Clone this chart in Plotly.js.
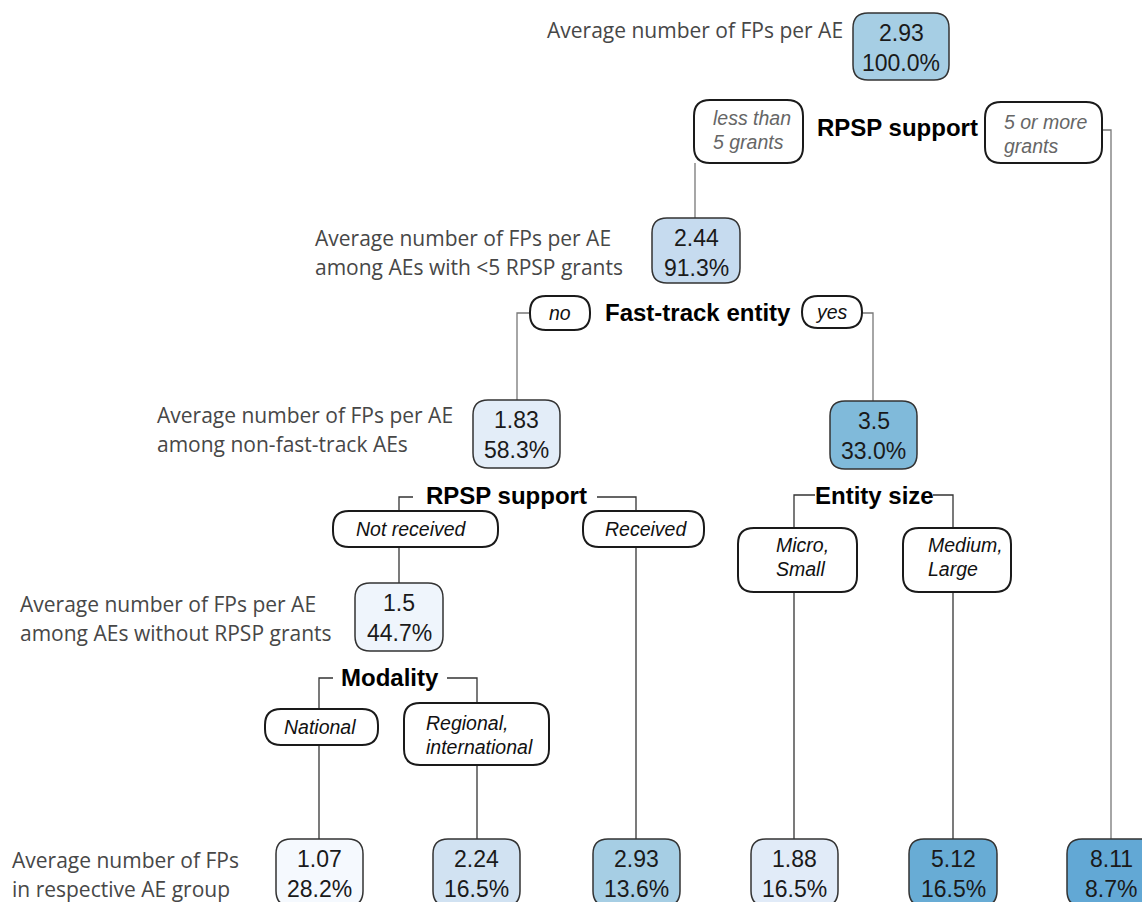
<!DOCTYPE html>
<html>
<head>
<meta charset="utf-8">
<script src="https://cdn.plot.ly/plotly-3.0.1.min.js"></script>
<style>html,body{margin:0;padding:0;background:#fff;}#chart{width:1142px;height:902px;}</style>
</head>
<body>
<div id="chart"></div>
<script>
// ---------- DATA ----------
const nodeValues = [2.93, 2.44, 1.83, 3.5, 1.5, 1.07, 2.24, 2.93, 1.88, 5.12, 8.11];
const nodeShares = [100.0, 91.3, 58.3, 33.0, 44.7, 28.2, 16.5, 13.6, 16.5, 16.5, 8.7];
const nodeLabels = [
  ["Average number of FPs per AE"],
  ["Average number of FPs per AE", "among AEs with <5 RPSP grants"],
  ["Average number of FPs per AE", "among non-fast-track AEs"],
  [],
  ["Average number of FPs per AE", "among AEs without RPSP grants"],
  ["Average number of FPs", "in respective AE group"],
  [], [], [], [], []
];
const splitTitles = ["RPSP support", "Fast-track entity", "RPSP support", "Entity size", "Modality"];
const branchLabels = [
  ["less than", "5 grants"], ["5 or more", "grants"],
  ["no"], ["yes"],
  ["Not received"], ["Received"],
  ["Micro,", "Small"], ["Medium,", "Large"],
  ["National"], ["Regional,", "international"]
];

// ---------- LAYOUT GEOMETRY (positions / sizes) ----------
const nodeBoxes = [
  [853, 13, 949, 80],
  [652, 218, 740, 283],
  [473, 400, 560, 468],
  [830, 401, 917, 469],
  [355, 583, 443, 651],
  [276, 839, 363, 906],
  [433, 839, 520, 906],
  [593, 839, 680, 906],
  [751, 839, 838, 906],
  [909, 839, 997, 906],
  [1067, 839, 1155, 906]
];
// label anchor: [x, anchor, y of first line]
const nodeLabelPos = [
  [845, "right", 30],
  [313, "left", 238],
  [155, "left", 415],
  null,
  [18, "left", 604],
  [10, "left", 860],
  null, null, null, null, null
];
const splitPos = [[897, 127], [698, 312], [506, 495], [874, 495], [390, 677]];
// branch boxes [x0,y0,x1,y1,textX,textAnchor,textY,color]
const branchBoxes = [
  [694, 100, 803, 163, 711, "left", 118, "#666"],
  [985, 102, 1102, 163, 1002, "left", 122, "#666"],
  [530, 296, 590, 330, 560, "center", 313, "#111"],
  [802, 296, 862, 328, 831, "center", 312, "#111"],
  [333, 511, 498, 547, 411, "center", 529, "#111"],
  [583, 511, 704, 547, 646, "center", 529, "#111"],
  [738, 528, 857, 592, 774, "left", 545, "#111"],
  [903, 528, 1011, 592, 926, "left", 545, "#111"],
  [265, 709, 378, 745, 320, "center", 727, "#111"],
  [404, 703, 549, 765, 424, "left", 723, "#111"]
];
const connectors = [
  [[695, 163], [695, 218]],
  [[1102, 130], [1111, 130], [1111, 839]],
  [[530, 313], [517, 313], [517, 400]],
  [[862, 313], [873, 313], [873, 401]],
  [[413, 497], [399, 497], [399, 511]],
  [[399, 547], [399, 583]],
  [[597, 497], [636, 497], [636, 511]],
  [[636, 547], [636, 839]],
  [[815, 495], [794, 495], [794, 528]],
  [[794, 592], [794, 839]],
  [[933, 495], [953, 495], [953, 528]],
  [[953, 592], [953, 839]],
  [[333, 678], [319, 678], [319, 709]],
  [[319, 745], [319, 839]],
  [[447, 678], [477, 678], [477, 703]],
  [[477, 765], [477, 839]]
];

// ---------- STYLES ----------
const colorStops = [
  [1.0, [246, 250, 254]],
  [1.5, [239, 245, 252]],
  [1.85, [226, 236, 248]],
  [2.24, [209, 226, 242]],
  [2.44, [198, 219, 239]],
  [2.93, [166, 206, 228]],
  [3.5, [128, 186, 218]],
  [5.12, [104, 172, 213]],
  [8.11, [98, 168, 213]]
];
function fillFor(v) {
  for (let i = 0; i < colorStops.length - 1; i++) {
    const [a, ca] = colorStops[i], [b, cb] = colorStops[i + 1];
    if (v <= b) {
      const t = Math.max(0, (v - a) / (b - a));
      const c = ca.map((x, k) => Math.round(x + (cb[k] - x) * t));
      return `rgb(${c.join(",")})`;
    }
  }
  const c = colorStops[colorStops.length - 1][1];
  return `rgb(${c.join(",")})`;
}
function rr(x0, y0, x1, y1, r) {
  return `M${x0 + r},${y0} L${x1 - r},${y0} Q${x1},${y0} ${x1},${y0 + r} L${x1},${y1 - r} Q${x1},${y1} ${x1 - r},${y1} L${x0 + r},${y1} Q${x0},${y1} ${x0},${y1 - r} L${x0},${y0 + r} Q${x0},${y0} ${x0 + r},${y0} Z`;
}
const numFont = {family: "Liberation Sans, Arial, sans-serif", size: 23, color: "#1a1a1a"};
const labFont = {family: "Open Sans, sans-serif", size: 21, color: "#474747"};
const titleFont = {family: "Liberation Sans, Arial, sans-serif", size: 24, color: "#000", weight: "bold"};

const shapes = [];
const annotations = [];
function ann(x, y, text, font, xanchor) {
  annotations.push({x: x, y: y, xref: "x", yref: "y", text: text, showarrow: false,
    font: font, xanchor: xanchor || "center", yanchor: "middle", align: xanchor || "center"});
}

connectors.forEach((pts, i) => {
  const d = pts.map((p, k) => (k ? "L" : "M") + p[0] + "," + p[1]).join(" ");
  const top = i < 4;
  shapes.push({type: "path", path: d, xref: "x", yref: "y",
    line: {color: top ? "#777" : "#333", width: 1.3}, layer: "above"});
});

nodeValues.forEach((v, i) => {
  const [x0, y0, x1, y1] = nodeBoxes[i];
  shapes.push({type: "path", path: rr(x0, y0, x1, y1, 15), xref: "x", yref: "y",
    fillcolor: fillFor(v), line: {color: "#333", width: 1.5}, layer: "above"});
  const cx = (x0 + x1) / 2;
  ann(cx, y0 + 20, String(v), numFont);
  ann(cx, y0 + 50, nodeShares[i].toFixed(1) + "%", numFont);
  const lp = nodeLabelPos[i];
  if (lp) nodeLabels[i].forEach((t, k) => ann(lp[0], lp[2] + k * 28.5, t.replace(/</g, "&lt;"), labFont, lp[1]));
});

splitTitles.forEach((t, i) => ann(splitPos[i][0], splitPos[i][1], t, titleFont));

branchLabels.forEach((lines, i) => {
  const [x0, y0, x1, y1, tx, ta, ty, col] = branchBoxes[i];
  const r = Math.min(16, (y1 - y0) / 2);
  shapes.push({type: "path", path: rr(x0, y0, x1, y1, r), xref: "x", yref: "y",
    fillcolor: "#fff", line: {color: "#1a1a1a", width: 2}, layer: "above"});
  const f = {family: "Liberation Sans, Arial, sans-serif", size: 19.5, color: col, style: "italic"};
  lines.forEach((t, k) => ann(tx, ty + k * 24, t, f, ta));
});

const layout = {
  width: 1142, height: 902,
  margin: {l: 0, r: 0, t: 0, b: 0},
  paper_bgcolor: "#fff", plot_bgcolor: "#fff",
  xaxis: {range: [0, 1142], visible: false, fixedrange: true},
  yaxis: {range: [902, 0], visible: false, fixedrange: true},
  showlegend: false,
  shapes: shapes,
  annotations: annotations
};
Plotly.newPlot("chart", [{x: [], y: [], type: "scatter", mode: "markers", hoverinfo: "skip"}], layout, {displayModeBar: false, staticPlot: true});
</script>
</body>
</html>
